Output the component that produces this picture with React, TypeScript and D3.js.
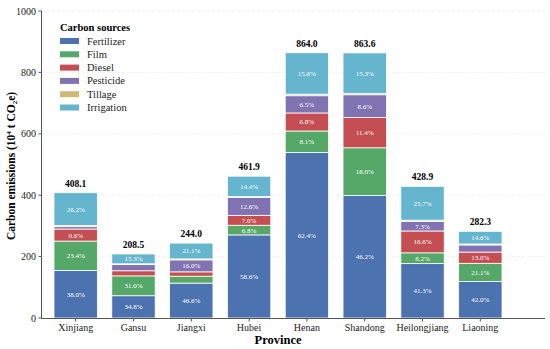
import * as d3 from 'd3';
import React, { useRef, useEffect } from 'react';

const provinces = ['Xinjiang', 'Gansu', 'Jiangxi', 'Hubei', 'Henan', 'Shandong', 'Heilongjiang', 'Liaoning'];
const totals = [408.1, 208.5, 244.0, 461.9, 864.0, 863.6, 428.9, 282.3];
const sources = ['Fertilizer', 'Film', 'Diesel', 'Pesticide', 'Tillage', 'Irrigation'];
// share (%) of each source per province
const fertilizer = [38.0, 34.8, 46.6, 58.6, 62.4, 46.2, 41.3, 42.0];
const film = [23.4, 31.0, 9.2, 6.8, 8.1, 18.0, 8.2, 21.1];
const diesel = [9.6, 8.0, 5.8, 7.0, 6.8, 11.4, 16.6, 13.0];
const pesticide = [1.9, 9.6, 16.0, 12.6, 6.5, 8.6, 7.3, 8.2];
const tillage = [0.9, 1.3, 1.3, 0.6, 0.6, 0.5, 0.9, 1.1];
const irrigation = [26.2, 15.3, 21.1, 14.4, 15.6, 15.3, 25.7, 14.6];
const yTicks = [0, 200, 400, 600, 800, 1000];

const colors = ['#4C72B0', '#55A868', '#C44E52', '#8172B2', '#CCB974', '#64B5CD'];
const FONT = "'Liberation Serif', Tinos, 'Times New Roman', Times, 'DejaVu Serif', 'Noto Serif', serif";

const App: React.FC = () => {
  const ref = useRef<SVGSVGElement>(null);

  useEffect(() => {
    if (!ref.current) return;
    const svg = d3.select(ref.current);
    svg.selectAll('*').remove();

    const shares = [fertilizer, film, diesel, pesticide, tillage, irrigation];
    const rows = provinces.map((p, i) => {
      const row: any = { province: p, total: totals[i] };
      sources.forEach((s, j) => { row[s] = totals[i] * shares[j][i] / 100; row[s + '_pct'] = shares[j][i]; });
      return row;
    });

    const x = d3.scaleBand().domain(provinces).range([54, 502]).paddingInner(0.25).paddingOuter(0);
    const y = d3.scaleLinear().domain([0, 1000]).range([318, 11]);

    // grid
    svg.append('g').selectAll('line').data(yTicks.slice(1)).enter().append('line')
      .attr('x1', 42).attr('x2', 545)
      .attr('y1', d => y(d)).attr('y2', d => y(d))
      .attr('stroke', '#ececec').attr('stroke-width', 0.8).attr('stroke-dasharray', '3,2');

    const stack = d3.stack<any>().keys(sources)(rows);

    const g = svg.append('g');
    stack.forEach((layer, j) => {
      const lg = g.append('g');
      lg.selectAll('rect').data(layer).enter().append('rect')
        .attr('x', d => x(d.data.province) as number)
        .attr('width', x.bandwidth())
        .attr('y', d => y(d[1]))
        .attr('height', d => y(d[0]) - y(d[1]))
        .attr('fill', colors[j])
        .attr('stroke', '#ffffff').attr('stroke-width', 0.8);
      lg.selectAll('text').data(layer.filter(d => d[1] - d[0] >= 25)).enter().append('text')
        .attr('x', d => (x(d.data.province) as number) + x.bandwidth() / 2)
        .attr('y', d => (y(d[0]) + y(d[1])) / 2 + 2.5)
        .attr('text-anchor', 'middle')
        .attr('fill', '#ffffff').style('font-size', '7px')
        .text(d => d.data[sources[j] + '_pct'].toFixed(1) + '%');
    });

    // totals
    svg.append('g').selectAll('text').data(rows).enter().append('text')
      .attr('x', d => (x(d.province) as number) + x.bandwidth() / 2)
      .attr('y', d => y(d.total) - 6)
      .attr('text-anchor', 'middle')
      .style('font-weight', 'bold').style('font-size', '9.5px')
      .text(d => d.total.toFixed(1));

    // axes
    const axisColor = '#555';
    svg.append('line').attr('x1', 41.5).attr('x2', 41.5).attr('y1', y(1000)).attr('y2', 318.5).attr('stroke', axisColor);
    svg.append('line').attr('x1', 41.5).attr('x2', 545).attr('y1', 318.5).attr('y2', 318.5).attr('stroke', axisColor);

    const yt = svg.append('g');
    yTicks.forEach(t => {
      yt.append('line').attr('x1', 38.5).attr('x2', 41.5).attr('y1', y(t)).attr('y2', y(t)).attr('stroke', axisColor);
      yt.append('text').attr('x', 36).attr('y', y(t) + 3.5).attr('text-anchor', 'end')
        .style('font-size', '10px').attr('fill', '#222').text(t);
    });

    const xt = svg.append('g');
    provinces.forEach(p => {
      const cx = (x(p) as number) + x.bandwidth() / 2;
      xt.append('line').attr('x1', cx).attr('x2', cx).attr('y1', 318.5).attr('y2', 321.5).attr('stroke', axisColor);
      xt.append('text').attr('x', cx).attr('y', 331).attr('text-anchor', 'middle')
        .style('font-size', '10px').attr('fill', '#222').text(p);
    });

    svg.append('text').attr('x', 278).attr('y', 344).attr('text-anchor', 'middle')
      .style('font-weight', 'bold').style('font-size', '12.5px').text('Province');

    const yl = svg.append('text')
      .attr('transform', 'translate(15,166) rotate(-90)')
      .attr('text-anchor', 'middle')
      .style('font-weight', 'bold').style('font-size', '11.5px');
    yl.append('tspan').text('Carbon emissions (10');
    yl.append('tspan').style('font-size', '7px').attr('dy', -4).text('4');
    yl.append('tspan').attr('dy', 4).text(' t CO');
    yl.append('tspan').style('font-size', '7px').attr('dy', 2).text('2');
    yl.append('tspan').attr('dy', -2).text('e)');

    // legend
    const leg = svg.append('g');
    leg.append('text').attr('x', 60).attr('y', 31).style('font-weight', 'bold')
      .style('font-size', '10.5px').text('Carbon sources');
    sources.forEach((s, i) => {
      const ly = 41 + i * 13.3;
      leg.append('rect').attr('x', 60).attr('y', ly - 3).attr('width', 19).attr('height', 6).attr('fill', colors[i]);
      leg.append('text').attr('x', 87).attr('y', ly + 3.5)
        .style('font-size', '10.5px').attr('fill', '#222').text(s);
    });
  }, []);

  return (
    <div style={{ position: 'absolute', left: 0, top: 0 }}>
      <svg ref={ref} width={550} height={349} style={{ display: 'block', background: '#fff', fontFamily: FONT }} />
    </div>
  );
};

export default App;
